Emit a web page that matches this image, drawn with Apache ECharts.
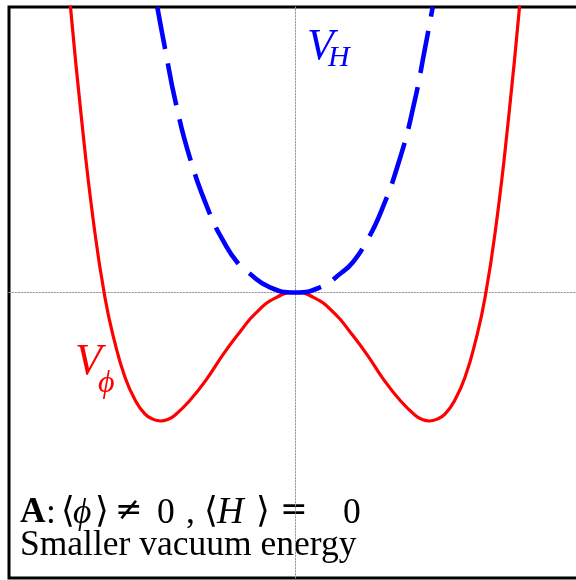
<!DOCTYPE html>
<html>
<head>
<meta charset="utf-8">
<script src="https://cdn.jsdelivr.net/npm/echarts@6/dist/echarts.min.js"></script>
<style>
  html, body { margin: 0; padding: 0; background: #fff; }
  #chart { width: 576px; height: 580px; }
</style>
</head>
<body>
<div id="chart"></div>
<script>
// Field values (horizontal) and potential values (vertical)
const phiValues = [-1.64, -1.57, -1.49, -1.41, -1.33, -1.26, -1.19, -1.12, -1.05, -0.99, -0.94, -0.89, -0.84, -0.73, -0.62, -0.50, -0.38, -0.28, -0.14, 0,
                   0.14, 0.28, 0.38, 0.50, 0.62, 0.73, 0.84, 0.89, 0.94, 0.99, 1.05, 1.12, 1.19, 1.26, 1.33, 1.41, 1.49, 1.57, 1.64];
const vPhi = [2.85, 2.00, 1.19, 0.50, -0.03, -0.35, -0.59, -0.75, -0.85, -0.889, -0.90, -0.889, -0.86, -0.75, -0.61, -0.43, -0.27, -0.15, -0.04, 0,
              -0.04, -0.15, -0.27, -0.43, -0.61, -0.75, -0.86, -0.889, -0.90, -0.889, -0.85, -0.75, -0.59, -0.35, -0.03, 0.50, 1.19, 2.00, 2.85];

const hValues = [-0.963, -0.909, -0.832, -0.734, -0.599, -0.49, -0.403, -0.327, -0.175, 0,
                 0.175, 0.327, 0.403, 0.49, 0.599, 0.734, 0.832, 0.909, 0.963];
const vH = [2.00, 1.71, 1.32, 0.94, 0.56, 0.34, 0.21, 0.14, 0.036, 0,
            0.036, 0.14, 0.21, 0.34, 0.56, 0.94, 1.32, 1.71, 2.00];

const axisRange = [-2, 2];

const phiSeries = phiValues.map((x, i) => [x, vPhi[i]]);
const hSeries = hValues.map((x, i) => [x, vH[i]]);

// dash pattern: regular dashes, one long dash through the bottom of the well
const dashPattern = [];
for (let i = 0; i < 5; i++) dashPattern.push(42.7, 14.5);
dashPattern.push(78, 14.5);
for (let i = 0; i < 8; i++) dashPattern.push(42.7, 14.5);

const serif = '"Liberation Serif", "Times New Roman", serif';
const mathSerif = '"DejaVu Serif", "Liberation Serif", serif';

// first caption line, piece by piece along the baseline
const capFs = 35.5;
const capTop = 525 - 0.84 * capFs;
const capPieces = [
  { t: 'A', x: 20, f: 'bold ' + capFs + 'px ' + serif },
  { t: ':', x: 46, f: capFs + 'px ' + serif },
  { t: '⟨', x: 61, f: capFs + 'px ' + mathSerif },
  { t: 'ϕ', x: 73, f: 'italic ' + capFs + 'px ' + serif },
  { t: '⟩', x: 95, f: capFs + 'px ' + mathSerif },
  { t: '≠', x: 115, f: '33px ' + mathSerif },
  { t: '0', x: 157, f: capFs + 'px ' + serif },
  { t: ',', x: 186, f: capFs + 'px ' + serif },
  { t: '⟨', x: 204, f: capFs + 'px ' + mathSerif },
  { t: 'H', x: 217, f: 'italic 37px ' + serif },
  { t: '⟩', x: 256, f: capFs + 'px ' + mathSerif },
  { t: '=', x: 280, f: '33px ' + mathSerif },
  { t: '0', x: 343, f: capFs + 'px ' + serif }
];

const graphics = capPieces.map(p => ({
  type: 'text', x: p.x, y: capTop,
  style: { text: p.t, font: p.f, fill: '#000', verticalAlign: 'top' }
}));
graphics.push(
  { type: 'text', x: 20, y: 557 - 0.84 * capFs, style: { text: 'Smaller vacuum energy', font: capFs + 'px ' + serif, fill: '#000', verticalAlign: 'top' } },
  { type: 'text', x: 307, y: 25, style: { text: 'V', font: 'italic 44px ' + serif, fill: '#0000ff', verticalAlign: 'top' } },
  { type: 'text', x: 328, y: 43, style: { text: 'H', font: 'italic 30px ' + serif, fill: '#0000ff', verticalAlign: 'top' } },
  { type: 'text', x: 75, y: 340, style: { text: 'V', font: 'italic 44px ' + serif, fill: '#ff0000', verticalAlign: 'top' } },
  { type: 'text', x: 98, y: 368, style: { text: 'ϕ', font: 'italic 32px ' + serif, fill: '#ff0000', verticalAlign: 'top' } }
);

const chart = echarts.init(document.getElementById('chart'), null, { renderer: 'canvas' });
chart.setOption({
  animation: false,
  backgroundColor: '#fff',
  grid: {
    left: 9, top: 7, width: 572, height: 571,
    outerBoundsMode: 'none', containLabel: false,
    show: true, borderColor: '#000', borderWidth: 3, backgroundColor: 'transparent'
  },
  xAxis: {
    type: 'value', min: axisRange[0], max: axisRange[1],
    axisLine: { show: true, onZero: true, lineStyle: { color: '#999', width: 1, type: [1.5, 1.5] } },
    axisTick: { show: false }, axisLabel: { show: false }, splitLine: { show: false }
  },
  yAxis: {
    type: 'value', min: axisRange[0], max: axisRange[1],
    axisLine: { show: true, onZero: true, lineStyle: { color: '#999', width: 1, type: [1.5, 1.5] } },
    axisTick: { show: false }, axisLabel: { show: false }, splitLine: { show: false }
  },
  series: [
    {
      name: 'Vphi', type: 'line', data: phiSeries, smooth: 0.5, showSymbol: false, clip: true,
      lineStyle: { color: '#ff0000', width: 3.2 }, z: 2
    },
    {
      name: 'VH', type: 'line', data: hSeries, smooth: 0.5, showSymbol: false, clip: true,
      lineStyle: { color: '#0000ff', width: 4.6, type: dashPattern, cap: 'butt' }, z: 3
    }
  ],
  graphic: graphics
});
</script>
</body>
</html>
